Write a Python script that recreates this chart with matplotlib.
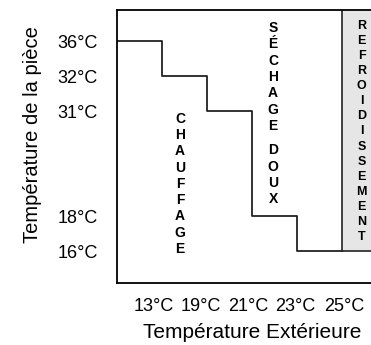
import matplotlib
matplotlib.use("Agg")
import matplotlib.pyplot as plt
from matplotlib.patches import Rectangle
from matplotlib.transforms import offset_copy

# Data
outdoor_labels = ["13°C", "19°C", "21°C", "23°C", "25°C"]
room_temps = [36, 32, 31, 18, 16]
room_labels = ["36°C", "32°C", "31°C", "18°C", "16°C"]
zones = ["CHAUFFAGE", "SÉCHAGE DOUX", "REFROIDISSEMENT"]

# Layout (slot positions on the schematic axes)
y_slots = [6, 5, 4, 1, 0]
x_steps = [0, 1, 2, 3, 4, 5]
x_label_pos = [0.82, 1.86, 2.91, 3.97, 5.05]

plt.rcParams['font.family'] = ['Liberation Sans', 'DejaVu Sans']

fig = plt.figure(figsize=(3.71, 3.45), dpi=100)
ax = fig.add_axes([117/371, 62/345, 270/371, 273/345])
ax.set_xlim(0, 6)
ax.set_ylim(-0.914, 6.886)

line_y = y_slots + [y_slots[-1]]
ax.step(x_steps, line_y, where='post', color='#222222', lw=1.3)

# cooling zone box
ax.add_patch(Rectangle((x_steps[-1], y_slots[-1]), 1.2, 6.886 - y_slots[-1] + 0.1,
                       facecolor='#e6e6e6', edgecolor='#333333', lw=1.3, zorder=1))

for s in ax.spines.values():
    s.set_linewidth(1.3)
    s.set_color('black')

ax.set_xticks(x_label_pos)
ax.set_xticklabels(outdoor_labels, fontsize=13)
ax.set_yticks(y_slots)
ax.set_yticklabels(room_labels, fontsize=13)
ax.tick_params(axis='x', length=0, pad=11)
ax.tick_params(axis='y', length=0, pad=14)

def vtext(x, y0, word, size, step, gap=1.5):
    tr = offset_copy(ax.transData, fig=fig, y=-0.716 * size / 2, units='points')
    slot = 0.0
    for ch in word:
        if ch == " ":
            slot += gap - 1
            continue
        ax.text(x, y0 - slot * step, ch, ha='center', va='baseline', fontsize=size,
                fontweight='bold', transform=tr, zorder=3)
        slot += 1

vtext(1.4, 3.8, zones[0], 10, 0.464)
vtext(3.47, 6.4, zones[1], 10, 0.466)
vtext(5.44, 6.46, zones[2], 9, 0.429)

fig.text(33/371, 1 - 135/345, "Température de la pièce", rotation=90,
         ha='center', va='center', fontsize=14.5)
fig.text(252/371, 13/345, "Température Extérieure", ha='center', va='center', fontsize=15)

fig.savefig("out.png", dpi=100)
